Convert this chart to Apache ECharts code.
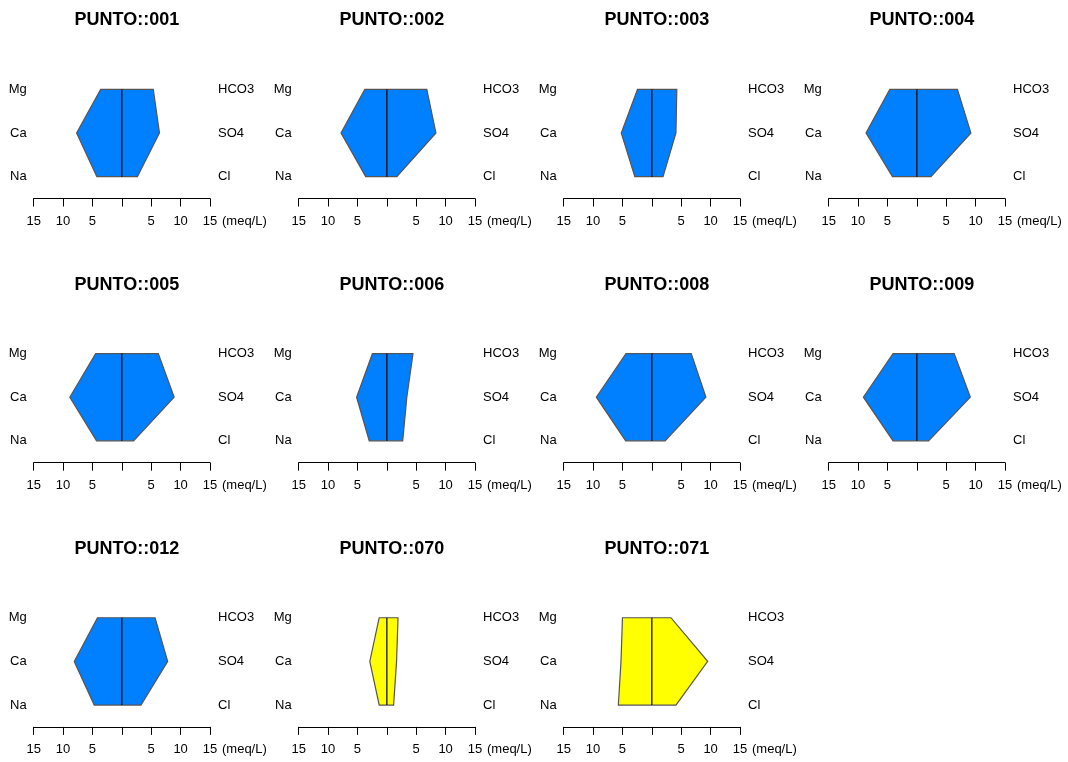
<!DOCTYPE html>
<html>
<head>
<meta charset="utf-8">
<script src="https://cdn.jsdelivr.net/npm/echarts@6/dist/echarts.min.js"></script>
<style>
  html, body { margin: 0; padding: 0; background: #ffffff; }
  #chart { width: 1068px; height: 762px; }
</style>
</head>
<body>
<div id="chart"></div>
<script>
// Stiff diagrams, major ions in meq/L per sampling point
const stations = ['PUNTO::001', 'PUNTO::002', 'PUNTO::003', 'PUNTO::004', 'PUNTO::005', 'PUNTO::006',
                  'PUNTO::008', 'PUNTO::009', 'PUNTO::012', 'PUNTO::070', 'PUNTO::071'];
// cations (left side)
const Mg   = [3.60, 3.75, 2.45, 4.60, 4.45, 2.45, 4.40, 4.05, 4.15, 1.30, 5.00];
const Ca   = [7.70, 7.80, 5.20, 8.65, 8.85, 5.15, 9.45, 9.10, 8.10, 2.90, 5.25];
const Na   = [4.25, 3.60, 2.90, 4.15, 4.30, 3.00, 4.45, 4.05, 4.70, 1.30, 5.70];
// anions (right side)
const HCO3 = [5.35, 6.80, 4.25, 6.90, 6.20, 4.45, 6.70, 6.35, 5.65, 1.90, 3.25];
const SO4  = [6.40, 8.35, 4.10, 9.20, 8.90, 3.40, 9.20, 9.10, 7.80, 1.65, 9.50];
const Cl   = [2.65, 1.70, 1.90, 2.40, 2.00, 2.70, 2.25, 2.00, 3.25, 1.15, 4.10];
// row labels, bottom to top
const cationLabels = ['Na', 'Ca', 'Mg'];
const anionLabels = ['Cl', 'SO4', 'HCO3'];
// axis ticks
const axisMin = -15, axisMax = 15, axisStep = 5;
// water group of each point
const group = ['A', 'A', 'A', 'A', 'A', 'A', 'A', 'A', 'A', 'B', 'B'];

const groupFill = { A: '#0080ff', B: '#ffff00' };
const font = 'Liberation Sans, Arial, sans-serif';

const colStep = 265, rowStep = 264.2;
const plotLeft = 33.7, plotWidth = 176.3, plotTop = 67.5, plotHeight = 131;

const grids = [], xAxes = [], yAxes = [], titles = [], series = [];

stations.forEach((name, i) => {
  const col = i % 4, row = Math.floor(i / 4);
  const left = plotLeft + col * colStep;
  const top = plotTop + row * rowStep;
  grids.push({ left: left, top: top, width: plotWidth, height: plotHeight, outerBoundsMode: 'none' });

  titles.push({
    text: name,
    left: left + plotWidth / 2,
    top: top - 61,
    textAlign: 'center',
    textStyle: { fontFamily: font, fontSize: 18, fontWeight: 'bold', color: '#000' }
  });

  xAxes.push({
    gridIndex: i, type: 'value', min: axisMin, max: axisMax, interval: axisStep,
    name: '(meq/L)', nameLocation: 'end', nameGap: 12,
    nameTextStyle: { fontFamily: font, fontSize: 13, color: '#000', verticalAlign: 'top', padding: [16, 0, 0, 0] },
    axisLine: { show: true, onZero: false, lineStyle: { color: '#000', width: 1 } },
    axisTick: { show: true, length: 8, lineStyle: { color: '#000', width: 1 } },
    axisLabel: {
      show: true, margin: 16, fontFamily: font, fontSize: 13, color: '#000',
      formatter: v => (v === 0 ? '' : String(Math.abs(v)))
    },
    splitLine: { show: false }
  });

  yAxes.push({
    gridIndex: i, type: 'category', data: cationLabels, position: 'left',
    axisLine: { show: false }, axisTick: { show: false },
    axisLabel: { margin: 7, fontFamily: font, fontSize: 13, color: '#000' },
    splitLine: { show: false }
  });
  yAxes.push({
    gridIndex: i, type: 'category', data: anionLabels, position: 'right',
    axisLine: { show: false }, axisTick: { show: false },
    axisLabel: { margin: 8, fontFamily: font, fontSize: 13, color: '#000' },
    splitLine: { show: false }
  });

  series.push({
    type: 'custom',
    name: name,
    xAxisIndex: i,
    yAxisIndex: i * 2,
    silent: true,
    data: [[Mg[i], Ca[i], Na[i], HCO3[i], SO4[i], Cl[i]]],
    renderItem: (params, api) => {
      const mg = api.value(0), ca = api.value(1), na = api.value(2);
      const hco3 = api.value(3), so4 = api.value(4), cl = api.value(5);
      const pts = [
        api.coord([-mg, 2]), api.coord([-ca, 1]), api.coord([-na, 0]),
        api.coord([cl, 0]), api.coord([so4, 1]), api.coord([hco3, 2])
      ];
      const top0 = api.coord([0, 2]), bot0 = api.coord([0, 0]);
      return {
        type: 'group',
        children: [
          {
            type: 'polygon',
            shape: { points: pts },
            style: { fill: groupFill[group[i]], stroke: '#555555', lineWidth: 1.2 }
          },
          {
            type: 'line',
            shape: { x1: top0[0], y1: top0[1], x2: bot0[0], y2: bot0[1] },
            style: { stroke: '#000000', lineWidth: 1.2 }
          }
        ]
      };
    }
  });
});

const chart = echarts.init(document.getElementById('chart'), null, { renderer: 'canvas' });
chart.setOption({
  backgroundColor: '#ffffff',
  animation: false,
  title: titles,
  grid: grids,
  xAxis: xAxes,
  yAxis: yAxes,
  series: series
});
</script>
</body>
</html>
